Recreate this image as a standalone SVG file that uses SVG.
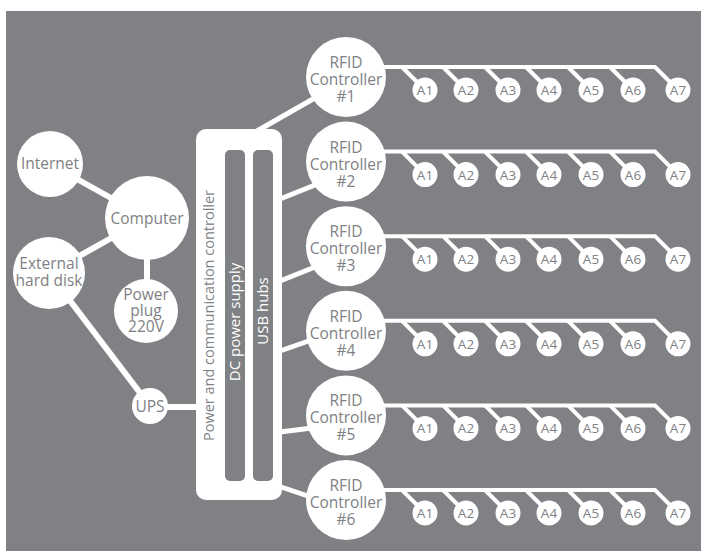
<svg xmlns="http://www.w3.org/2000/svg" width="701" height="551" viewBox="0 0 701 551">
<style>
.bg{fill:#808184}
.node{fill:#fff}
.t{font-family:"Open Sans","Liberation Sans",sans-serif;font-size:15.5px;fill:#808184;text-anchor:middle}
.ta{font-family:"Open Sans","Liberation Sans",sans-serif;font-size:13.5px;fill:#808184;text-anchor:middle}
.tr{font-family:"Open Sans","Liberation Sans",sans-serif;font-size:14.5px;fill:#808184;text-anchor:middle}
.tw{font-family:"Open Sans","Liberation Sans",sans-serif;font-size:15px;fill:#fff;text-anchor:middle}
.c6{stroke:#fff;stroke-width:6;fill:none}
.c5{stroke:#fff;stroke-width:5;fill:none}
.bus{stroke:#fff;stroke-width:4;fill:none;stroke-linejoin:miter}
</style>
<defs>
<g id="rowbus">
<polyline class="bus" points="380,67 655,67 678,90"/>
<line class="bus" x1="402" y1="67" x2="425" y2="90"/>
<line class="bus" x1="443" y1="67" x2="466" y2="90"/>
<line class="bus" x1="485" y1="67" x2="508" y2="90"/>
<line class="bus" x1="526" y1="67" x2="549" y2="90"/>
<line class="bus" x1="568" y1="67" x2="591" y2="90"/>
<line class="bus" x1="610" y1="67" x2="633" y2="90"/>
</g>
<g id="antennas">
<circle class="node" cx="425" cy="90" r="12.5"/><text class="ta" x="425" y="95">A1</text>
<circle class="node" cx="466" cy="90" r="12.5"/><text class="ta" x="466" y="95">A2</text>
<circle class="node" cx="508" cy="90" r="12.5"/><text class="ta" x="508" y="95">A3</text>
<circle class="node" cx="549" cy="90" r="12.5"/><text class="ta" x="549" y="95">A4</text>
<circle class="node" cx="591" cy="90" r="12.5"/><text class="ta" x="591" y="95">A5</text>
<circle class="node" cx="633" cy="90" r="12.5"/><text class="ta" x="633" y="95">A6</text>
<circle class="node" cx="678" cy="90" r="12.5"/><text class="ta" x="678" y="95">A7</text>
</g>
</defs>
<rect class="bg" x="6" y="11" width="695" height="540"/>

<g id="connectors">
<line class="c6" x1="50" y1="164" x2="147" y2="218"/>
<line class="c6" x1="147" y1="218" x2="49" y2="273"/>
<line class="c6" x1="147" y1="218" x2="147" y2="310"/>
<line class="c6" x1="49" y1="273" x2="150" y2="406"/>
<line class="c6" x1="150" y1="407" x2="200" y2="407"/>
<line class="c5" x1="257" y1="131" x2="320" y2="95"/>
<line class="c5" x1="280" y1="199" x2="320" y2="183"/>
<line class="c5" x1="280" y1="281" x2="320" y2="265"/>
<line class="c5" x1="280" y1="351" x2="320" y2="337"/>
<line class="c5" x1="280" y1="432" x2="320" y2="427"/>
<line class="c5" x1="278" y1="486" x2="320" y2="500"/>
<use href="#rowbus"/>
<use href="#rowbus" transform="translate(0,84.6)"/>
<use href="#rowbus" transform="translate(0,169.2)"/>
<use href="#rowbus" transform="translate(0,253.8)"/>
<use href="#rowbus" transform="translate(0,338.4)"/>
<use href="#rowbus" transform="translate(0,423)"/>
</g>

<g id="internet"><circle class="node" cx="50" cy="164" r="33"/><text class="t" x="50" y="169">Internet</text></g>
<g id="computer"><circle class="node" cx="147" cy="218" r="42"/><text class="t" x="147" y="224">Computer</text></g>
<g id="external-hard-disk"><circle class="node" cx="49" cy="273" r="36"/><text class="t" x="49" y="269">External</text><text class="t" x="49" y="286">hard disk</text></g>
<g id="power-plug"><circle class="node" cx="146" cy="311" r="32"/><text class="t" x="146" y="300">Power</text><text class="t" x="146" y="316">plug</text><text class="t" x="146" y="332">220V</text></g>
<g id="ups"><circle class="node" cx="150" cy="406" r="18"/><text class="t" x="150" y="412">UPS</text></g>

<g id="controller">
<rect class="node" x="196" y="129" width="86" height="371" rx="10"/>
<rect class="bg" x="225" y="150" width="20" height="331" rx="5"/>
<rect class="bg" x="253" y="150" width="20" height="331" rx="5"/>
<text class="tr" transform="translate(214,315.5) rotate(-90)">Power and communication controller</text>
<text class="tw" transform="translate(240,322) rotate(-90)">DC power supply</text>
<text class="tw" transform="translate(268,311) rotate(-90)">USB hubs</text>
</g>

<g id="rfid1"><circle class="node" cx="346" cy="77" r="40"/><text class="t" x="346" y="68">RFID</text><text class="t" x="346" y="85">Controller</text><text class="t" x="346" y="102">#1</text></g>
<g id="rfid2" transform="translate(0,84.6)"><circle class="node" cx="346" cy="77" r="40"/><text class="t" x="346" y="68">RFID</text><text class="t" x="346" y="85">Controller</text><text class="t" x="346" y="102">#2</text></g>
<g id="rfid3" transform="translate(0,169.2)"><circle class="node" cx="346" cy="77" r="40"/><text class="t" x="346" y="68">RFID</text><text class="t" x="346" y="85">Controller</text><text class="t" x="346" y="102">#3</text></g>
<g id="rfid4" transform="translate(0,253.8)"><circle class="node" cx="346" cy="77" r="40"/><text class="t" x="346" y="68">RFID</text><text class="t" x="346" y="85">Controller</text><text class="t" x="346" y="102">#4</text></g>
<g id="rfid5" transform="translate(0,338.4)"><circle class="node" cx="346" cy="77" r="40"/><text class="t" x="346" y="68">RFID</text><text class="t" x="346" y="85">Controller</text><text class="t" x="346" y="102">#5</text></g>
<g id="rfid6" transform="translate(0,423)"><circle class="node" cx="346" cy="77" r="40"/><text class="t" x="346" y="68">RFID</text><text class="t" x="346" y="85">Controller</text><text class="t" x="346" y="102">#6</text></g>

<g id="antennas-1"><use href="#antennas"/></g>
<g id="antennas-2"><use href="#antennas" transform="translate(0,84.6)"/></g>
<g id="antennas-3"><use href="#antennas" transform="translate(0,169.2)"/></g>
<g id="antennas-4"><use href="#antennas" transform="translate(0,253.8)"/></g>
<g id="antennas-5"><use href="#antennas" transform="translate(0,338.4)"/></g>
<g id="antennas-6"><use href="#antennas" transform="translate(0,423)"/></g>
</svg>
